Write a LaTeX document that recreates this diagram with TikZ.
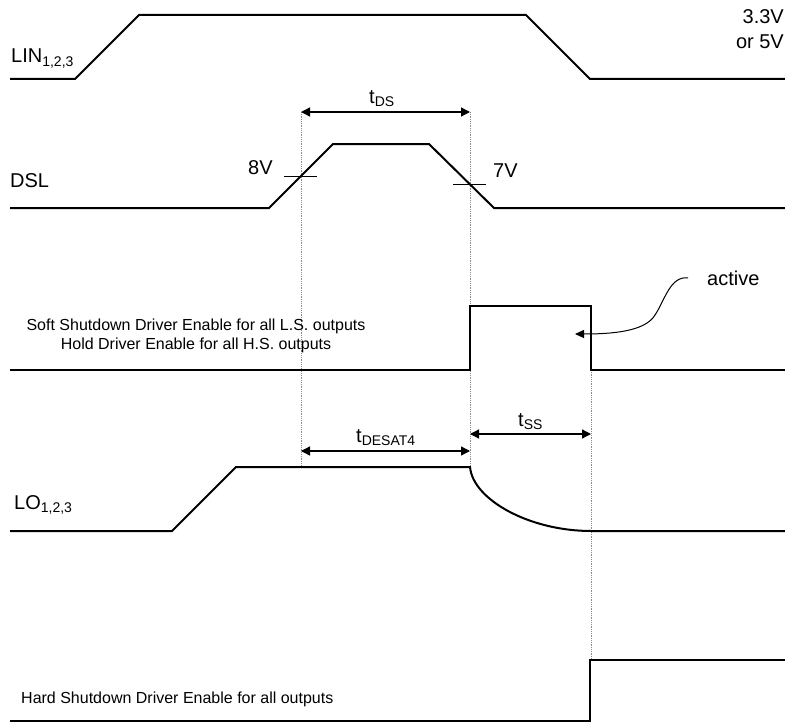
\documentclass[tikz,border=0pt]{standalone}
\usepackage{fontspec}
\setmainfont{Liberation Sans}
\usepackage{tikz}
\usetikzlibrary{
  arrows.meta,
  positioning,
  calc
}

\begin{document}
\begin{tikzpicture}[x=1pt, y=-1pt,
  sig/.style={line width=2pt, line join=miter},
  dimarrow/.style={line width=1.3pt,
    {Triangle[length=9pt,width=9pt]}-{Triangle[length=9pt,width=9pt]}},
  guide/.style={black!45, densely dotted, line width=0.8pt},
  crosstick/.style={line width=1pt},
  biglbl/.style={font=\fontsize{20}{25}\selectfont, inner sep=0pt},
  smalllbl/.style={font=\fontsize{16}{19}\selectfont, inner sep=0pt}]
\useasboundingbox (0,0) rectangle (785,725);

% time marks
\coordinate (dsA) at (301,112);
\coordinate (dsB) at (470,112);
\coordinate (desatA) at (301,451);
\coordinate (desatB) at (470,451);
\coordinate (guideA) at (301,467);
\coordinate (guideB) at (470,467);
\coordinate (ssA) at (470,434);
\coordinate (ssB) at (591,434);
\coordinate (ssTop) at (591,370);
\coordinate (ssBot) at (591,660);

% dotted guides
\draw[guide] (dsA) -- (guideA);
\draw[guide] (dsB) -- (guideB);
\draw[guide] (ssTop) -- (ssBot);

% LIN
\draw[sig] (10,79) -- (75,79) -- (139,15) -- (526,15) -- (590,79) -- (785,79);
\node[biglbl, anchor=base west] (linlbl) at (11,63) {LIN\textsubscript{1,2,3}};
\node[biglbl, anchor=base east, align=right] (supply) at (784,49) {3.3V\\or 5V};

% DSL
\draw[sig] (10,208) -- (269,208) -- (333,144) -- (429,144) -- (494,208) -- (785,208);
\node[biglbl, anchor=base west] (dsllbl) at (10,187) {DSL};
\draw[crosstick] (284,176) -- (317,176);
\draw[crosstick] (453,184) -- (486,184);
\node[biglbl, anchor=base west] (eightv) at (248,174) {8V};
\node[biglbl, anchor=base west] (sevenv) at (493,177) {7V};

% t_DS
\draw[dimarrow] (dsA) -- (dsB);
\node[biglbl, anchor=base west] (tds) at (369,103) {t\textsubscript{DS}};

% soft shutdown
\draw[sig] (10,370) -- (470,370) -- (470,306) -- (591,306) -- (591,370) -- (785,370);
\node[smalllbl, align=center] (softlbl) at (196,336)
  {Soft Shutdown Driver Enable for all L.S. outputs\\
   Hold Driver Enable for all H.S. outputs};
\node[biglbl, anchor=base west] (active) at (707,285) {active};
\coordinate (activetip) at (575,334);
\draw[line width=1pt, -{Triangle[length=9pt,width=8pt]}]
  ([xshift=-19pt]active.west) .. controls (670,276) and (665,300) .. (655,315)
  .. controls (645,332) and (610,334) .. (activetip);

% t_DESAT4 and t_SS
\draw[dimarrow] (desatA) -- (desatB);
\node[biglbl, anchor=base west] (tdesat) at (356,442) {t\textsubscript{DESAT4}};
\draw[dimarrow] (ssA) -- (ssB);
\node[biglbl, anchor=base west] (tss) at (518,426) {t\textsubscript{SS}};

% LO
\draw[sig] (10,531) -- (172,531) -- (236,467) -- (470,467)
  .. controls (473,500) and (530,531) .. (591,531) -- (785,531);
\node[biglbl, anchor=base west] (lolbl) at (14,509) {LO\textsubscript{1,2,3}};

% hard shutdown
\draw[sig] (10,721) -- (590,721) -- (590,660) -- (785,660);
\node[smalllbl, anchor=base west] (hardlbl) at (21,703)
  {Hard Shutdown Driver Enable for all outputs};
\end{tikzpicture}
\end{document}
